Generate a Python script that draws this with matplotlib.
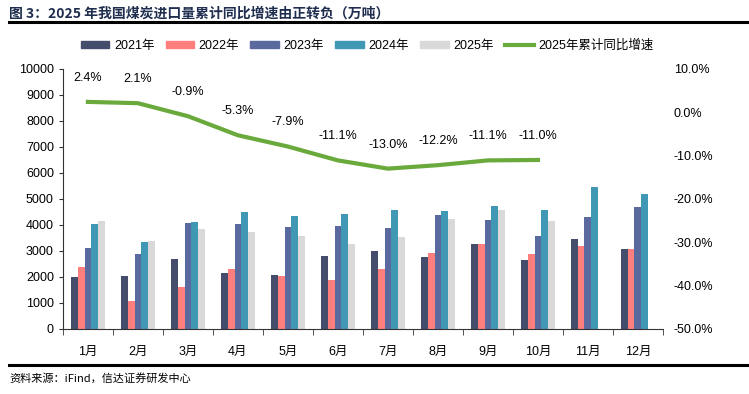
import numpy as np
import matplotlib.pyplot as plt
from matplotlib.patches import Patch
from matplotlib.lines import Line2D
from matplotlib.ticker import FuncFormatter

plt.rcParams['font.family'] = ['Liberation Sans', 'Noto Sans CJK SC']

months = ['1月', '2月', '3月', '4月', '5月', '6月', '7月', '8月', '9月', '10月', '11月', '12月']
v2021 = [2000, 2040, 2690, 2140, 2060, 2810, 2990, 2770, 3270, 2670, 3460, 3060]
v2022 = [2370, 1090, 1600, 2320, 2020, 1870, 2320, 2920, 3270, 2880, 3200, 3060]
v2023 = [3100, 2880, 4080, 4020, 3920, 3950, 3880, 4380, 4180, 3560, 4320, 4690]
v2024 = [4040, 3330, 4100, 4490, 4350, 4420, 4580, 4540, 4730, 4580, 5460, 5190]
v2025 = [4140, 3400, 3830, 3740, 3580, 3280, 3530, 4230, 4560, 4140]
growth = [2.4, 2.1, -0.9, -5.3, -7.9, -11.1, -13.0, -12.2, -11.1, -11.0]

series = [('2021年', v2021, '#454d6d'),
          ('2022年', v2022, '#ff7f7f'),
          ('2023年', v2023, '#5b6a9e'),
          ('2024年', v2024, '#4198b5'),
          ('2025年', v2025, '#d9d9d9')]
c_line = '#6aaa3c'

fig = plt.figure(figsize=(7.49, 3.94), dpi=100)
ax = fig.add_axes([0.084, 0.165, 0.801, 0.66])
ax2 = ax.twinx()

x = np.arange(len(months))
w = 0.135
for i, (name, vals, col) in enumerate(series):
    ax.bar(x[:len(vals)] + (i - 2) * w, vals, width=w, color=col, zorder=2)

ax.set_xlim(-0.5, 11.5)
ax.set_ylim(0, 10000)
ax.set_yticks(range(0, 10001, 1000))
ax.set_xticks(x)
ax.set_xticklabels(months)
ax.set_xticks(np.arange(-0.5, 12, 1), minor=True)
ax.tick_params(axis='x', which='major', length=0, pad=12, labelsize=9)
ax.tick_params(axis='x', which='minor', length=4, direction='out', color='#333333')
ax.tick_params(axis='y', length=3, direction='out', labelsize=9, color='#333333')
for s in ['top', 'right']:
    ax.spines[s].set_visible(False)
ax.spines['left'].set_color('#333333')
ax.spines['bottom'].set_color('#333333')

xl = x[:len(growth)]
ax2.plot(xl, growth, color=c_line, lw=3, zorder=3)
for xi, g in zip(xl, growth):
    ax2.annotate(f'{g:.1f}%', (xi, g), xytext=(0, 13), textcoords='offset points',
                 ha='center', va='bottom', fontsize=9)
ax2.set_ylim(-50, 10)
ax2.set_yticks(range(-50, 11, 10))
ax2.yaxis.set_major_formatter(FuncFormatter(lambda v, p: f'{v:.1f}%'))
ax2.tick_params(axis='y', length=0, labelsize=9, pad=8)
for s in ['top', 'right', 'left', 'bottom']:
    ax2.spines[s].set_visible(False)

handles = [Patch(color=col, label=name) for name, _, col in series]
handles.append(Line2D([], [], color=c_line, lw=3, label='2025年累计同比增速'))
fig.legend(handles=handles, loc='center', bbox_to_anchor=(0.49, 0.885), ncol=6,
           frameon=False, fontsize=9, handlelength=2.3, handleheight=0.5,
           columnspacing=0.9, handletextpad=0.35)

fig.text(0.012, 0.965, '图 3：2025 年我国煤炭进口量累计同比增速由正转负（万吨）',
         fontsize=10, fontweight='bold', color='#1f2d4f', va='center',
         family=['Noto Sans CJK SC'])
fig.add_artist(Line2D([0.012, 1.0], [0.943, 0.943], color='black', lw=2.2))
fig.add_artist(Line2D([0.012, 1.0], [0.073, 0.073], color='black', lw=2.2))
fig.text(0.012, 0.04, '资料来源：iFind，信达证券研发中心', fontsize=8, style='italic',
         va='center', family=['Noto Sans CJK SC'])

fig.savefig('out.png', dpi=100)
